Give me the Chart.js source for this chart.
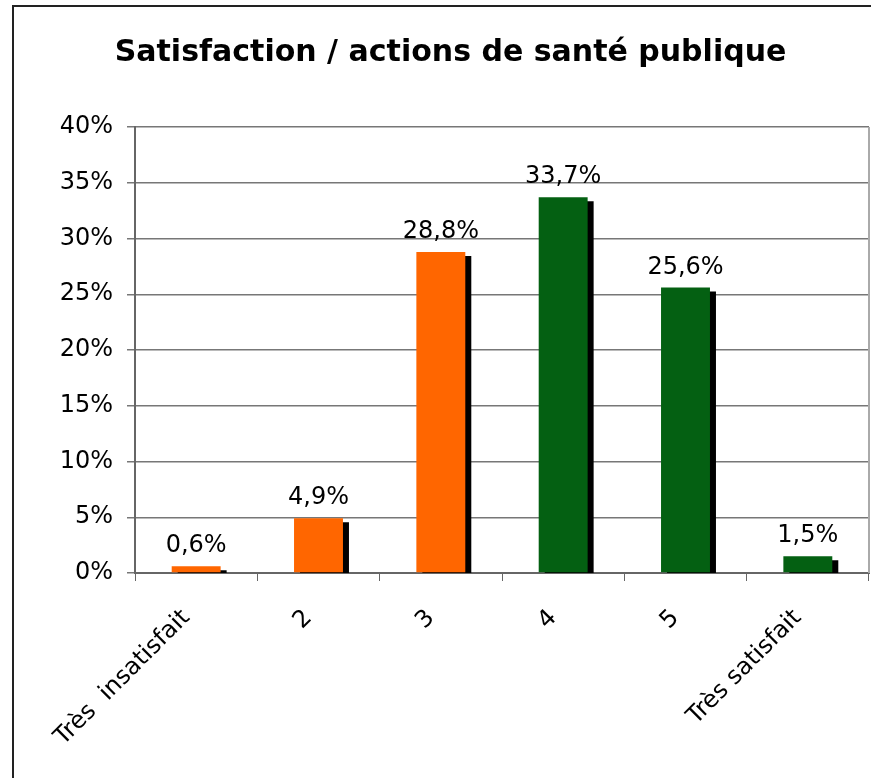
<!DOCTYPE html>
<html lang="fr">
<head>
    <meta charset="UTF-8">
    <title>Satisfaction / actions de santé publique</title>
    <style>
        body {
            margin: 0;
            background: white;
            overflow: hidden;
        }
        .cadre {
            position: absolute;
            left: 12px;
            top: 5px;
            width: 900px;
            height: 800px;
            border-left: 2px solid #222;
            border-top: 2px solid #222;
        }
        canvas {
            position: absolute;
            left: 0;
            top: 0;
        }
    </style>
</head>
<body>

<div class="cadre"></div>
<canvas id="graphique" width="871" height="778"></canvas>

<script src="https://cdn.jsdelivr.net/npm/chart.js"></script>
<script>
    // Données
    const categories = ['Très  insatisfait', '2', '3', '4', '5', 'Très satisfait'];
    const valeurs = [0.6, 4.9, 28.8, 33.7, 25.6, 1.5];
    const couleurs = ['#ff6600', '#ff6600', '#ff6600', '#046012', '#046012', '#046012'];
    const graduations = [0, 5, 10, 15, 20, 25, 30, 35, 40];

    const police = 'DejaVu Sans, Verdana, sans-serif';

    // Ombre noire décalée sous chaque barre
    const ombre = {
        id: 'ombre',
        beforeDatasetsDraw(chart) {
            const ctx = chart.ctx;
            ctx.save();
            ctx.shadowColor = '#000';
            ctx.shadowOffsetX = 6;
            ctx.shadowOffsetY = 4;
            ctx.shadowBlur = 0;
        },
        afterDatasetsDraw(chart) {
            chart.ctx.restore();
        }
    };

    // Valeurs au-dessus des barres + bord droit de la zone de tracé
    const etiquettes = {
        id: 'etiquettes',
        afterDraw(chart) {
            const ctx = chart.ctx;
            const area = chart.chartArea;
            ctx.save();
            ctx.strokeStyle = '#aaa';
            ctx.lineWidth = 2;
            ctx.beginPath();
            ctx.moveTo(area.right, area.top);
            ctx.lineTo(area.right, area.bottom);
            ctx.stroke();

            ctx.font = '24px ' + police;
            ctx.fillStyle = '#000';
            ctx.textAlign = 'center';
            ctx.textBaseline = 'alphabetic';
            chart.getDatasetMeta(0).data.forEach((barre, i) => {
                const texte = valeurs[i].toFixed(1).replace('.', ',') + '%';
                ctx.fillText(texte, barre.x, barre.y - 14);
            });
            ctx.restore();
        }
    };

    const ctx = document.getElementById('graphique').getContext('2d');
    const chart = new Chart(ctx, {
        type: 'bar',
        data: {
            labels: categories,
            datasets: [{
                data: valeurs,
                backgroundColor: couleurs,
                borderWidth: 0,
                categoryPercentage: 1,
                barPercentage: 0.4,
                clip: 0
            }]
        },
        options: {
            responsive: false,
            animation: false,
            layout: {
                padding: { left: 32, right: 2, top: 0, bottom: 0 }
            },
            plugins: {
                legend: { display: false },
                tooltip: { enabled: false },
                title: {
                    display: true,
                    text: 'Satisfaction / actions de santé publique',
                    color: '#000',
                    font: { family: police, size: 30, weight: 'bold' },
                    padding: { top: 35, bottom: 56 }
                }
            },
            scales: {
                x: {
                    grid: {
                        display: true,
                        drawOnChartArea: false,
                        drawTicks: true,
                        tickLength: 8,
                        color: '#666',
                        offset: true
                    },
                    border: { color: '#666', width: 2 },
                    ticks: {
                        color: '#000',
                        font: { family: police, size: 24 },
                        minRotation: 45,
                        maxRotation: 45,
                        autoSkip: false,
                        labelOffset: -10,
                        padding: 23
                    },
                    afterFit(scale) {
                        scale.height = 205;
                    }
                },
                y: {
                    min: 0,
                    max: 40,
                    afterBuildTicks(scale) {
                        scale.ticks = graduations.map(v => ({ value: v }));
                    },
                    grid: {
                        color: '#777',
                        lineWidth: 1.5,
                        tickLength: 8
                    },
                    border: { color: '#666', width: 2 },
                    ticks: {
                        color: '#000',
                        font: { family: police, size: 24 },
                        padding: 14,
                        callback: v => v + '%'
                    },
                    afterFit(scale) {
                        scale.width = 103;
                    }
                }
            }
        },
        plugins: [ombre, etiquettes]
    });
</script>

</body>
</html>
